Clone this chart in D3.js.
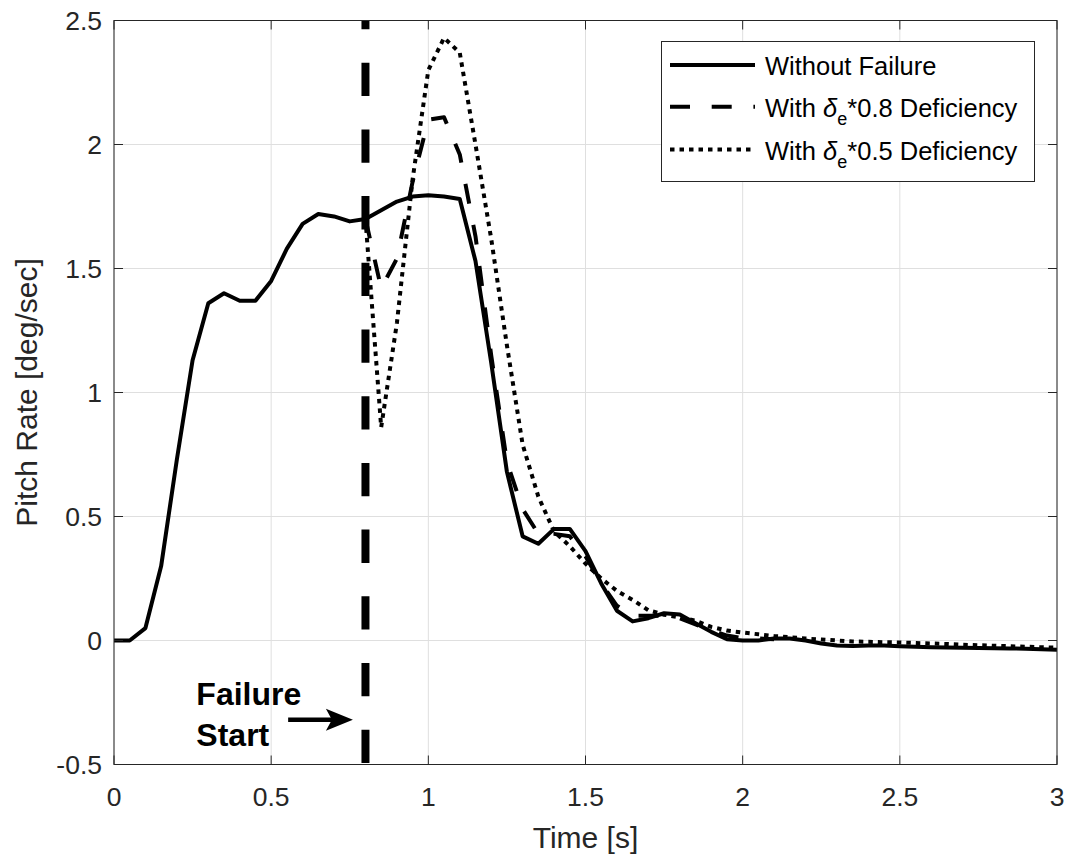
<!DOCTYPE html>
<html>
<head>
<meta charset="utf-8">
<script src="https://cdn.jsdelivr.net/npm/d3@7"></script>
<style>
  body { margin: 0; background: #fff; }
  svg { display: block; font-family: "Liberation Sans", Arial, Helvetica, sans-serif; }
</style>
</head>
<body>
<div id="chart"></div>
<script>
// sample times (s)
const timeSteps = [0, 0.05, 0.1, 0.15, 0.2, 0.25, 0.3, 0.35, 0.4, 0.45, 0.5, 0.55, 0.6, 0.65, 0.7, 0.75,
  0.8, 0.85, 0.9, 0.95, 1.0, 1.05, 1.1, 1.15, 1.2, 1.25, 1.3, 1.35, 1.4, 1.45, 1.5, 1.55, 1.6, 1.65,
  1.7, 1.75, 1.8, 1.85, 1.9, 1.95, 2.0, 2.05, 2.1, 2.15, 2.2, 2.25, 2.3, 2.35, 2.4, 2.45, 2.5, 2.55,
  2.6, 2.65, 2.7, 2.75, 2.8, 2.85, 2.9, 2.95, 3.0];

// pitch rate [deg/sec]
const withoutFailure = [0, 0, 0.05, 0.30, 0.73, 1.13, 1.36, 1.40, 1.37, 1.37, 1.45, 1.58, 1.68, 1.72, 1.71, 1.69,
  1.70, 1.735, 1.77, 1.79, 1.795, 1.79, 1.78, 1.53, 1.12, 0.68, 0.42, 0.39, 0.45, 0.45, 0.36, 0.23, 0.12, 0.077,
  0.09, 0.11, 0.105, 0.07, 0.035, 0.005, 0.0, 0.0, 0.008, 0.008, 0.0, -0.012, -0.02, -0.022, -0.02, -0.02, -0.023, -0.025,
  -0.027, -0.028, -0.029, -0.03, -0.031, -0.032, -0.033, -0.035, -0.037];

// these start at the failure time (0.8 s)
const deficiency08 = [1.70, 1.42, 1.54, 1.85, 2.10, 2.11, 1.96, 1.63, 1.15, 0.72, 0.53, 0.43, 0.43, 0.42, 0.34,
  0.23, 0.14, 0.10, 0.10, 0.10, 0.09, 0.065, 0.04, 0.02, 0.01, 0.008, 0.005];

const deficiency05 = [1.70, 0.86, 1.28, 1.86, 2.30, 2.43, 2.37, 2.00, 1.62, 1.19, 0.79, 0.58, 0.44, 0.38, 0.31,
  0.25, 0.20, 0.164, 0.122, 0.104, 0.093, 0.08, 0.055, 0.04, 0.032, 0.025, 0.018, 0.013, 0.008, 0.004, 0.0,
  -0.004, -0.005, -0.007, -0.008, -0.01, -0.012, -0.014, -0.017, -0.019, -0.021, -0.023, -0.025, -0.027, -0.029];

const failureTime = 0.8;

const xTicks = [0, 0.5, 1, 1.5, 2, 2.5, 3];
const xTickLabels = ["0", "0.5", "1", "1.5", "2", "2.5", "3"];
const yTicks = [-0.5, 0, 0.5, 1, 1.5, 2, 2.5];
const yTickLabels = ["-0.5", "0", "0.5", "1", "1.5", "2", "2.5"];

const width = 1071, height = 855;
const margin = {top: 20.5, right: 14, bottom: 90.5, left: 114};
const axisColor = "#262626";

const svg = d3.select("#chart").append("svg")
  .attr("width", width)
  .attr("height", height);

svg.append("rect").attr("width", width).attr("height", height).attr("fill", "#fff");

const x = d3.scaleLinear().domain([0, 3]).range([margin.left, width - margin.right]);
const y = d3.scaleLinear().domain([-0.5, 2.5]).range([height - margin.bottom, margin.top]);

// grid
const grid = svg.append("g").attr("stroke", "#dfdfdf").attr("stroke-width", 1);
grid.selectAll(".gx").data(xTicks).enter().append("line")
  .attr("x1", d => x(d)).attr("x2", d => x(d))
  .attr("y1", y(-0.5)).attr("y2", y(2.5));
grid.selectAll(".gy").data(yTicks).enter().append("line")
  .attr("x1", x(0)).attr("x2", x(3))
  .attr("y1", d => y(d)).attr("y2", d => y(d));

// series
const seriesFrom = (values, startTime) => {
  const times = timeSteps.filter(t => t >= startTime - 1e-9);
  return values.map((v, i) => ({t: times[i], v: v}));
};

const line = d3.line().x(d => x(d.t)).y(d => y(d.v));

const series = [
  {name: "solid", data: seriesFrom(withoutFailure, 0), dash: null},
  {name: "dash", data: seriesFrom(deficiency08, failureTime), dash: "20,21.7"},
  {name: "dot", data: seriesFrom(deficiency05, failureTime), dash: "4.5,5"}
];

const plot = svg.append("g");

plot.selectAll(".series").data(series).enter().append("path")
  .attr("class", "series")
  .attr("d", d => line(d.data))
  .attr("fill", "none")
  .attr("stroke", "#000")
  .attr("stroke-width", 4)
  .attr("stroke-linejoin", "round")
  .attr("stroke-dasharray", d => d.dash);

// failure marker
plot.append("line")
  .attr("x1", x(failureTime)).attr("x2", x(failureTime))
  .attr("y1", y(-0.5) - 1.5).attr("y2", y(2.5))
  .attr("stroke", "#000")
  .attr("stroke-width", 8)
  .attr("stroke-dasharray", "33.3,33.4");

// axes box + ticks
const box = svg.append("g").attr("stroke", axisColor).attr("stroke-width", 1).attr("fill", "none");
box.append("rect")
  .attr("x", x(0)).attr("y", y(2.5))
  .attr("width", x(3) - x(0)).attr("height", y(-0.5) - y(2.5));

const tickLen = 9;
xTicks.forEach(t => {
  box.append("line").attr("x1", x(t)).attr("x2", x(t)).attr("y1", y(-0.5)).attr("y2", y(-0.5) - tickLen);
  box.append("line").attr("x1", x(t)).attr("x2", x(t)).attr("y1", y(2.5)).attr("y2", y(2.5) + tickLen);
});
yTicks.forEach(v => {
  box.append("line").attr("x1", x(0)).attr("x2", x(0) + tickLen).attr("y1", y(v)).attr("y2", y(v));
  box.append("line").attr("x1", x(3)).attr("x2", x(3) - tickLen).attr("y1", y(v)).attr("y2", y(v));
});

// tick labels
svg.append("g").selectAll("text").data(xTicks).enter().append("text")
  .attr("x", d => x(d))
  .attr("y", y(-0.5) + 41.5)
  .attr("text-anchor", "middle")
  .attr("font-size", 26.5)
  .attr("fill", axisColor)
  .text((d, i) => xTickLabels[i]);

svg.append("g").selectAll("text").data(yTicks).enter().append("text")
  .attr("x", x(0) - 12)
  .attr("y", d => y(d))
  .attr("dy", "0.36em")
  .attr("text-anchor", "end")
  .attr("font-size", 26.5)
  .attr("fill", axisColor)
  .text((d, i) => yTickLabels[i]);

// axis labels
svg.append("text")
  .attr("x", (x(0) + x(3)) / 2)
  .attr("y", 848)
  .attr("text-anchor", "middle")
  .attr("font-size", 30)
  .attr("fill", axisColor)
  .text("Time [s]");

svg.append("text")
  .attr("transform", `translate(37,${(y(-0.5) + y(2.5)) / 2}) rotate(-90)`)
  .attr("text-anchor", "middle")
  .attr("font-size", 30)
  .attr("fill", axisColor)
  .text("Pitch Rate [deg/sec]");

// annotation
const note = svg.append("g").attr("fill", "#000");
note.append("text")
  .attr("x", x(0.262)).attr("y", y(-0.259))
  .attr("font-size", 32).attr("font-weight", "bold")
  .text("Failure");
note.append("text")
  .attr("x", x(0.262)).attr("y", y(-0.425))
  .attr("font-size", 32).attr("font-weight", "bold")
  .text("Start");

const ay = y(-0.32);
const ax0 = x(0.554), ax1 = x(0.76);
note.append("line")
  .attr("x1", ax0).attr("x2", ax1 - 20)
  .attr("y1", ay).attr("y2", ay)
  .attr("stroke", "#000").attr("stroke-width", 4.5);
note.append("path")
  .attr("d", `M${ax1},${ay} L${ax1 - 27},${ay - 11} L${ax1 - 21},${ay} L${ax1 - 27},${ay + 11} Z`);

// legend
const legend = svg.append("g");
legend.append("rect")
  .attr("x", 661.5).attr("y", 41.5)
  .attr("width", 373).attr("height", 140)
  .attr("fill", "#fff")
  .attr("stroke", axisColor).attr("stroke-width", 1);

const legendRows = [
  {dash: null, baseline: 75, label: "Without Failure", factor: null},
  {dash: "20,21.7", baseline: 116.7, label: null, factor: "0.8"},
  {dash: "4.5,5", baseline: 159.5, label: null, factor: "0.5"}
];

legendRows.forEach(r => {
  legend.append("line")
    .attr("x1", 670).attr("x2", 755)
    .attr("y1", r.baseline - 10).attr("y2", r.baseline - 10)
    .attr("stroke", "#000").attr("stroke-width", 4)
    .attr("stroke-dasharray", r.dash);
  const t = legend.append("text")
    .attr("x", 765).attr("y", r.baseline)
    .attr("font-size", 25.5)
    .attr("fill", "#000");
  if (r.label) {
    t.text(r.label);
  } else {
    t.append("tspan").text("With ");
    t.append("tspan").attr("font-style", "italic").text("δ");
    t.append("tspan").attr("font-size", 18).attr("dy", 8).text("e");
    t.append("tspan").attr("dy", -8).text("*" + r.factor + " Deficiency");
  }
});
</script>
</body>
</html>
